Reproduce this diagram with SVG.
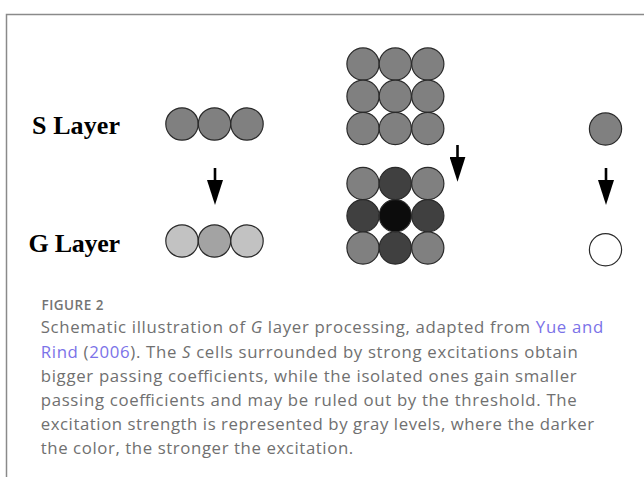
<svg xmlns="http://www.w3.org/2000/svg" width="644" height="477" viewBox="0 0 644 477">
<style>
.c{stroke:#2a2a2a;stroke-width:1.2}
.m{fill:#808080}
.lt{fill:#c2c2c2}
.md{fill:#a3a3a3}
.dk{fill:#404040}
.bk{fill:#0c0c0c}
.wh{fill:#ffffff}
.lbl{font-family:"Liberation Serif",serif;font-weight:bold;font-size:26px;fill:#000}
.cap{font-family:"Open Sans",sans-serif;font-size:16.8px;fill:#707070}
.fig{font-family:"Open Sans",sans-serif;font-weight:600;font-size:13.5px;fill:#747474}
.lnk{fill:#7b72e8}
.arr{stroke:#000;stroke-width:2.6;fill:none}
</style>
<defs>
<marker id="ah" viewBox="0 0 25 16" refX="15" refY="8" markerWidth="25" markerHeight="16" markerUnits="userSpaceOnUse" orient="auto">
<path d="M0,0 L25,8 L0,16 Z" fill="#000"/>
</marker>
</defs>
<rect width="644" height="477" fill="#fff"/>
<path d="M6.5,477 V14.5 H644" fill="none" stroke="#8a8a8a" stroke-width="1.5"/>
<g id="labels">
<text class="lbl" x="32" y="133.5" textLength="88">S Layer</text>
<text class="lbl" x="28.5" y="251.7" textLength="91.5">G Layer</text>
</g>
<g id="s-row">
<circle class="c m" cx="182" cy="124" r="16.2"/>
<circle class="c m" cx="214.5" cy="124" r="16.2"/>
<circle class="c m" cx="247" cy="124" r="16.2"/>
</g>
<g id="g-row">
<circle class="c lt" cx="182" cy="241" r="16.2"/>
<circle class="c md" cx="214.5" cy="241" r="16.2"/>
<circle class="c lt" cx="247" cy="241" r="16.2"/>
</g>
<g id="s-grid">
<circle class="c m" cx="363" cy="64" r="16.1"/>
<circle class="c m" cx="395.3" cy="64" r="16.1"/>
<circle class="c m" cx="427.8" cy="64" r="16.1"/>
<circle class="c m" cx="363" cy="96.3" r="16.1"/>
<circle class="c m" cx="395.3" cy="96.3" r="16.1"/>
<circle class="c m" cx="427.8" cy="96.3" r="16.1"/>
<circle class="c m" cx="363" cy="128.5" r="16.1"/>
<circle class="c m" cx="395.3" cy="128.5" r="16.1"/>
<circle class="c m" cx="427.8" cy="128.5" r="16.1"/>
</g>
<g id="g-grid">
<circle class="c m" cx="363" cy="183.5" r="16.1"/>
<circle class="c dk" cx="395.3" cy="183.5" r="16.1"/>
<circle class="c m" cx="427.8" cy="183.5" r="16.1"/>
<circle class="c dk" cx="363" cy="215.7" r="16.1"/>
<circle class="c bk" cx="395.3" cy="215.7" r="16.1"/>
<circle class="c dk" cx="427.8" cy="215.7" r="16.1"/>
<circle class="c m" cx="363" cy="248" r="16.1"/>
<circle class="c dk" cx="395.3" cy="248" r="16.1"/>
<circle class="c m" cx="427.8" cy="248" r="16.1"/>
</g>
<g id="s-single">
<circle class="c m" cx="605.5" cy="129" r="16.1"/>
</g>
<g id="g-single">
<circle class="c wh" cx="605.5" cy="249.7" r="16.1"/>
</g>
<g id="connectors">
<line class="arr" x1="215" y1="168" x2="215" y2="195" marker-end="url(#ah)"/>
<line class="arr" x1="457.5" y1="145" x2="457.5" y2="171.7" marker-end="url(#ah)"/>
<line class="arr" x1="606" y1="168" x2="606" y2="195" marker-end="url(#ah)"/>
</g>
<g id="caption">
<text class="fig" x="41.5" y="310" textLength="62">FIGURE 2</text>
<text class="cap" x="40.7" y="333.3" textLength="562.5">Schematic illustration of <tspan font-style="italic">G</tspan> layer processing, adapted from <tspan class="lnk">Yue and</tspan></text>
<text class="cap" x="40.7" y="357.5" textLength="537"><tspan class="lnk">Rind</tspan> (<tspan class="lnk">2006</tspan>). The <tspan font-style="italic">S</tspan> cells surrounded by strong excitations obtain</text>
<text class="cap" x="40.7" y="381.7" textLength="536">bigger passing coefficients, while the isolated ones gain smaller</text>
<text class="cap" x="40.7" y="405.9" textLength="536">passing coefficients and may be ruled out by the threshold. The</text>
<text class="cap" x="40.7" y="430.1" textLength="553.3">excitation strength is represented by gray levels, where the darker</text>
<text class="cap" x="40.7" y="454.3" textLength="312.5">the color, the stronger the excitation.</text>
</g>
</svg>
